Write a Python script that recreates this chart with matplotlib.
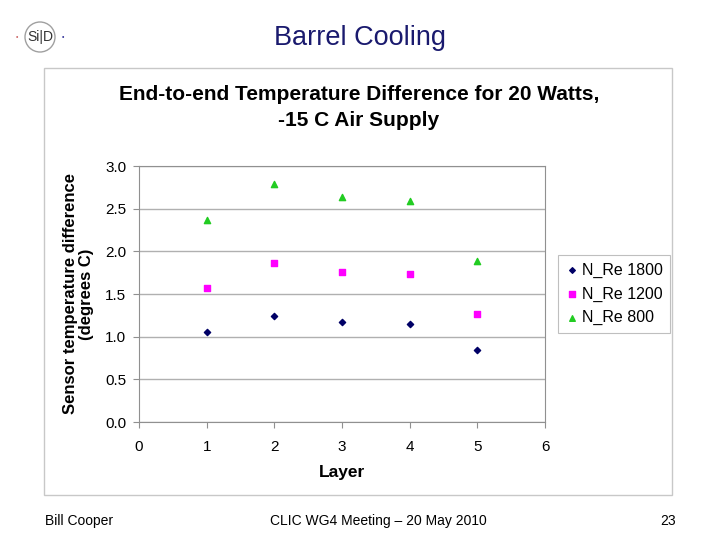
import matplotlib
matplotlib.use("Agg")
import matplotlib.pyplot as plt
from matplotlib.patches import Rectangle, Ellipse

layers = [1, 2, 3, 4, 5]
re1800 = [1.05, 1.24, 1.17, 1.15, 0.84]
re1200 = [1.57, 1.86, 1.76, 1.73, 1.27]
re800 = [2.37, 2.79, 2.64, 2.59, 1.89]
series_names = ["N_Re 1800", "N_Re 1200", "N_Re 800"]
xticks = [0, 1, 2, 3, 4, 5, 6]
yticks = [0.0, 0.5, 1.0, 1.5, 2.0, 2.5, 3.0]

plt.rcParams['font.family'] = ['Liberation Sans', 'DejaVu Sans']
fig = plt.figure(figsize=(7.2, 5.4), dpi=100)

# chart frame
fig.patches.append(Rectangle((44/720, 1-495/540), (672-44)/720, (495-68)/540,
                             transform=fig.transFigure, fill=False,
                             edgecolor='#c8c8c8', linewidth=1.0))

ax = fig.add_axes([139/720, 1-422/540, (545-139)/720, (422-166)/540])
ax.scatter(layers, re1800, marker='D', s=10, color='#000066', label=series_names[0], zorder=3)
ax.scatter(layers, re1200, marker='s', s=20, color='#ff00ff', label=series_names[1], zorder=3)
ax.scatter(layers, re800, marker='^', s=20, color='#22cc22', label=series_names[2], zorder=3)
ax.set_xlim(0, 6)
ax.set_ylim(0, 3)
ax.set_xticks(xticks)
ax.set_yticks(yticks)
ax.set_yticklabels([f"{v:.1f}" for v in yticks])
ax.grid(axis='y', color='#b0b0b0', linewidth=1.0)
ax.set_axisbelow(True)
for s in ax.spines.values():
    s.set_color('#909090')
ax.tick_params(direction='out', length=4, color='#909090', labelsize=11, pad=5)
ax.tick_params(axis='x', pad=9)
ax.set_xlabel("Layer", fontsize=12.5, fontweight='bold', labelpad=8)
ax.set_ylabel("Sensor temperature difference\n(degrees C)", fontsize=12,
              fontweight='bold', labelpad=8, linespacing=1.1)

leg = fig.legend(loc='center', bbox_to_anchor=(614/720, 1-294/540), fontsize=11.5,
                 frameon=True, fancybox=False, edgecolor='#b0b0b0',
                 handletextpad=0.2, borderpad=0.45, labelspacing=0.55,
                 handlelength=0.8, markerscale=0.9, borderaxespad=0)
leg.get_frame().set_linewidth(0.8)

fig.text(359/720, 1-95/540, "End-to-end Temperature Difference for 20 Watts,",
         ha='center', va='center', fontsize=15, fontweight='bold')
fig.text(359/720, 1-120/540, "-15 C Air Supply",
         ha='center', va='center', fontsize=15, fontweight='bold')

fig.text(360/720, 1-38/540, "Barrel Cooling", ha='center', va='center',
         fontsize=19.5, color='#1a1a6e')

# logo
fig.patches.append(Ellipse((40/720, 1-37/540), 30/720, 30/540, transform=fig.transFigure,
                           fill=False, edgecolor='#a0a0a0', linewidth=1.0))
fig.text(40/720, 1-37/540, "Si|D", ha='center', va='center', fontsize=10, color='#333333')
fig.text(17/720, 1-37/540, "•", ha='center', va='center', fontsize=5, color='#cc6666')
fig.text(63/720, 1-37/540, "•", ha='center', va='center', fontsize=5, color='#333399')

fig.text(45/720, 1-521/540, "Bill Cooper", ha='left', va='center', fontsize=10)
fig.text(378/720, 1-521/540, "CLIC WG4 Meeting \u2013 20 May 2010", ha='center', va='center', fontsize=10)
fig.text(676/720, 1-521/540, "23", ha='right', va='center', fontsize=10)

fig.savefig("out.png", dpi=100)
